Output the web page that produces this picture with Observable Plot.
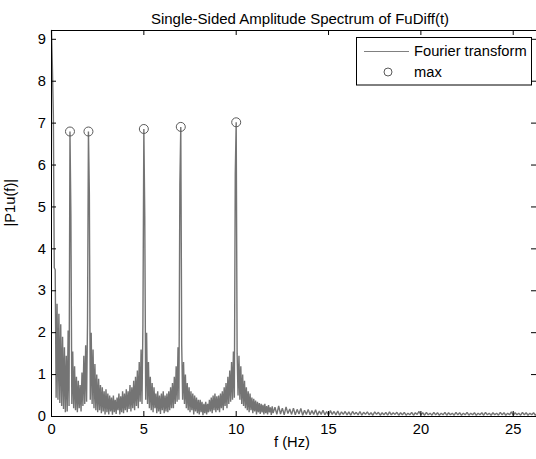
<!DOCTYPE html>
<html>
<head>
<meta charset="utf-8">
<script src="https://cdn.jsdelivr.net/npm/d3@7"></script>
<script src="https://cdn.jsdelivr.net/npm/@observablehq/plot@0.6"></script>
<style>
  html, body { margin: 0; padding: 0; background: #fff; }
  svg { display: block; }
</style>
</head>
<body>
<div id="chart"></div>
<script>
// ---- text ----
const title = "Single-Sided Amplitude Spectrum of FuDiff(t)";
const xLabel = "f (Hz)";
const yLabel = "|P1u(f)|";
const legendLabels = ["Fourier transform", "max"];

// ---- ticks / axis limits ----
const xTicks = [0, 5, 10, 15, 20, 25];
const yTicks = [0, 1, 2, 3, 4, 5, 6, 7, 8, 9];
const xMax = 26.26;
const yMax = 9.21;

// ---- spectrum, 0 .. 12 Hz every 0.05 Hz ----
const lowStart = 0, lowStep = 0.05;
const ampLow = [
  9.21, 8.3, 7.2, 3.55, 3.5, 0.45, 2.69, 0.4, 2.45, 0.32, 2.2, 0.25, 1.9, 0.18, 1.65, 0.1, 1.45, 0.12, 2.05, 0.25,
  6.80, 4.8, 0.3, 1.55, 0.2, 1.2, 0.15, 0.95, 0.1, 0.85, 0.2, 0.75, 0.12, 1.05, 0.25, 1.45, 0.3, 1.7, 0.35, 2.25,
  6.80, 5.3, 0.4, 2.0, 0.3, 1.6, 0.2, 1.25, 0.15, 1.0, 0.1, 0.9, 0.15, 0.75, 0.08, 0.7, 0.12, 0.6, 0.05, 0.65,
  0.1, 0.55, 0.05, 0.5, 0.12, 0.45, 0.04, 0.5, 0.1, 0.4, 0.06, 0.45, 0.15, 0.55, 0.05, 0.48, 0.1, 0.6, 0.08, 0.55,
  0.15, 0.65, 0.1, 0.6, 0.18, 0.75, 0.12, 0.7, 0.2, 0.85, 0.15, 0.95, 0.25, 1.1, 0.2, 1.3, 0.35, 1.6, 0.3, 2.2,
  6.86, 4.77, 0.4, 2.0, 0.3, 1.3, 0.2, 0.95, 0.15, 0.8, 0.1, 0.7, 0.2, 0.55, 0.08, 0.6, 0.12, 0.5, 0.06, 0.55,
  0.15, 0.6, 0.08, 0.5, 0.12, 0.55, 0.1, 0.6, 0.15, 0.7, 0.2, 0.8, 0.2, 0.95, 0.3, 1.2, 0.35, 1.65, 0.4, 5.55,
  6.91, 1.7, 0.4, 1.3, 0.3, 1.0, 0.2, 0.8, 0.15, 0.7, 0.1, 0.6, 0.15, 0.55, 0.05, 0.5, 0.12, 0.45, 0.08, 0.4,
  0.05, 0.4, 0.1, 0.35, 0.03, 0.3, 0.08, 0.35, 0.05, 0.3, 0.1, 0.4, 0.12, 0.45, 0.08, 0.5, 0.15, 0.55, 0.1, 0.48,
  0.15, 0.5, 0.1, 0.55, 0.2, 0.6, 0.15, 0.7, 0.25, 0.8, 0.2, 0.95, 0.3, 1.1, 0.35, 1.3, 0.4, 1.55, 0.45, 5.8,
  7.02, 1.5, 0.5, 1.45, 0.4, 1.2, 0.3, 1.0, 0.25, 0.85, 0.2, 0.7, 0.15, 0.6, 0.1, 0.55, 0.15, 0.45, 0.08, 0.42,
  0.12, 0.38, 0.05, 0.35, 0.1, 0.32, 0.06, 0.3, 0.1, 0.28, 0.05, 0.3, 0.08, 0.25, 0.05, 0.27, 0.1, 0.22, 0.04, 0.24,
  0.08
];

// ---- spectrum, 12.1 .. 26.3 Hz every 0.1 Hz ----
const highStart = 12.1, highStep = 0.1;
const ampHigh = [
  0.22, 0.05, 0.25, 0.06, 0.2, 0.04, 0.23, 0.07, 0.18, 0.05,
  0.2, 0.04, 0.17, 0.06, 0.19, 0.03, 0.15, 0.05, 0.17, 0.04,
  0.14, 0.05, 0.16, 0.03, 0.13, 0.05, 0.15, 0.04, 0.12, 0.03,
  0.14, 0.05, 0.12, 0.04, 0.13, 0.03, 0.11, 0.05, 0.12, 0.04,
  0.11, 0.03, 0.12, 0.05, 0.1, 0.04, 0.12, 0.03, 0.1, 0.05,
  0.11, 0.04, 0.09, 0.03, 0.11, 0.05, 0.1, 0.03, 0.09, 0.04,
  0.1, 0.03, 0.11, 0.04, 0.09, 0.05, 0.1, 0.03, 0.09, 0.04,
  0.1, 0.03, 0.08, 0.04, 0.1, 0.03, 0.09, 0.05, 0.12, 0.04,
  0.09, 0.03, 0.1, 0.04, 0.08, 0.03, 0.1, 0.04, 0.09, 0.03,
  0.08, 0.04, 0.1, 0.03, 0.09, 0.04, 0.08, 0.03, 0.1, 0.04,
  0.09, 0.03, 0.08, 0.04, 0.1, 0.03, 0.08, 0.04, 0.09, 0.03,
  0.08, 0.04, 0.09, 0.03, 0.1, 0.04, 0.08, 0.03, 0.09, 0.04,
  0.08, 0.03, 0.1, 0.04, 0.09, 0.03, 0.08, 0.04, 0.11, 0.03,
  0.09, 0.04, 0.08, 0.03, 0.1, 0.04, 0.09, 0.03, 0.08, 0.04,
  0.09, 0.03, 0.08
];

// ---- maxima ----
const peakFreq = [1, 2, 5, 7, 10];
const peakAmp = [6.80, 6.80, 6.86, 6.91, 7.02];

// ---- colours ----
const lineColor = "#747474";
const legendLineColor = "#808080";
const markerColor = "#5a5a5a";
const font = "'Liberation Sans', Arial, Helvetica, sans-serif";

const spectrum = [
  ...ampLow.map((a, i) => ({f: +(lowStart + i * lowStep).toFixed(2), a})),
  ...ampHigh.map((a, i) => ({f: +(highStart + i * highStep).toFixed(2), a}))
];
const peaks = peakFreq.map((f, i) => ({f, a: peakAmp[i]}));

const chart = Plot.plot({
  width: 536,
  height: 459,
  marginLeft: 51,
  marginRight: 0,
  marginTop: 30,
  marginBottom: 43,
  style: {fontFamily: font, fontSize: "14.7px", color: "#000", background: "#fff"},
  x: {domain: [0, xMax], label: null},
  y: {domain: [0, yMax], label: null},
  marks: [
    Plot.line(spectrum, {x: "f", y: "a", stroke: lineColor, strokeWidth: 1.4, strokeLinejoin: "miter"}),
    Plot.dot(peaks, {x: "f", y: "a", r: 4.5, stroke: markerColor, strokeWidth: 1, fill: "none"}),
    Plot.ruleY([0, yMax], {stroke: "#000"}),
    Plot.ruleX([0], {stroke: "#000"}),
    Plot.ruleX(xTicks, {x: d => d, y1: 0, y2: 0, insetTop: -5, stroke: "#000"}),
    Plot.ruleX(xTicks, {x: d => d, y1: yMax, y2: yMax, insetBottom: -5, stroke: "#000"}),
    Plot.ruleY(yTicks, {y: d => d, x1: 0, x2: 0, insetRight: -5, stroke: "#000"}),
    Plot.ruleY(yTicks, {y: d => d, x1: xMax, x2: xMax, insetLeft: -5, stroke: "#000"}),
    Plot.axisX(xTicks, {tickSize: 0, tickPadding: 7, label: null}),
    Plot.axisY(yTicks, {tickSize: 0, tickPadding: 5.5, label: null}),
    Plot.text([xLabel], {frameAnchor: "bottom", dy: 30, dx: -2, text: d => d}),
    Plot.text([yLabel], {frameAnchor: "left", dx: -41, dy: 3, rotate: -90, text: d => d}),
    Plot.text([title], {frameAnchor: "top", dy: -17, dx: 6, text: d => d, fontSize: 15})
  ]
});

// ---- legend box (MATLAB style, top right inside axes) ----
const svg = d3.select(chart);
const lg = svg.append("g")
  .attr("font-family", font).attr("font-size", 14.7)
  .attr("fill", "#000").attr("text-anchor", "start");
lg.append("rect").attr("x", 356.5).attr("y", 37.5).attr("width", 175).attr("height", 47.5)
  .attr("fill", "#fff").attr("stroke", "#000");
lg.append("line").attr("x1", 364).attr("x2", 409).attr("y1", 51.5).attr("y2", 51.5)
  .attr("stroke", legendLineColor);
lg.append("circle").attr("cx", 388).attr("cy", 72).attr("r", 4)
  .attr("fill", "none").attr("stroke", markerColor);
lg.append("text").attr("x", 414).attr("y", 51).attr("dy", "0.35em").text(legendLabels[0]);
lg.append("text").attr("x", 414).attr("y", 72).attr("dy", "0.35em").text(legendLabels[1]);

document.getElementById("chart").append(chart);
</script>
</body>
</html>
